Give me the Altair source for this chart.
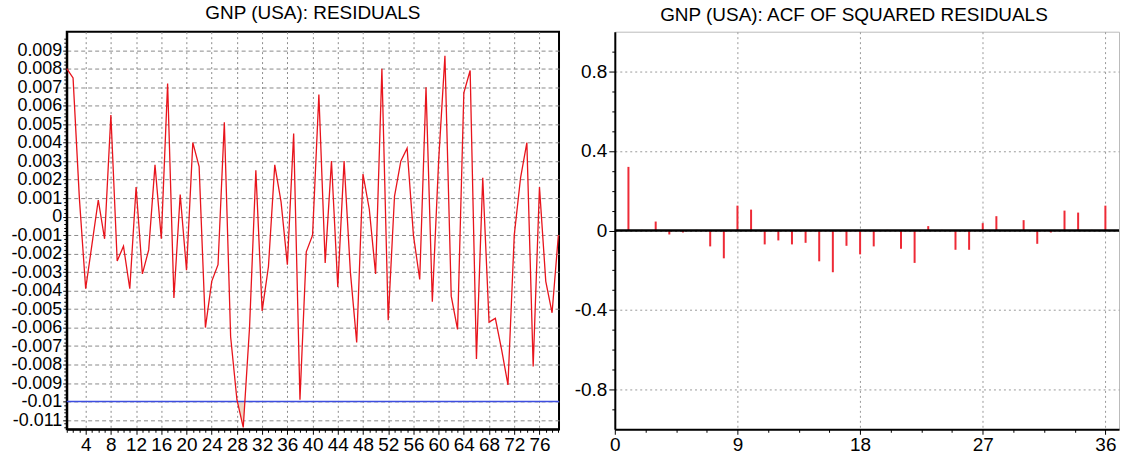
import altair as alt
import pandas as pd

FONT = "Liberation Sans"

# ---------------- data ----------------
obs = list(range(1, 80))
residuals = [
    0.0080, 0.0075, 0.0010, -0.0039, -0.0015, 0.0009, -0.0012, 0.0055, -0.0024, -0.0016,
    -0.0039, 0.0016, -0.0031, -0.0018, 0.0028, -0.0012, 0.0072, -0.0044, 0.0012, -0.0029,
    0.0040, 0.0027, -0.0060, -0.0035, -0.0026, 0.0051, -0.0065, -0.0099, -0.0114, -0.0060,
    0.0025, -0.0051, -0.0027, 0.0028, 0.0008, -0.0026, 0.0045, -0.0099, -0.0019, -0.0010,
    0.0066, -0.0025, 0.0030, -0.0038, 0.0030, -0.0030, -0.0068, 0.0023, 0.0004, -0.0031,
    0.0080, -0.0056, 0.0011, 0.0030, 0.0037, -0.0010, -0.0034, 0.0070, -0.0046, 0.0030,
    0.0087, -0.0043, -0.0061, 0.0067, 0.0079, -0.0077, 0.0021, -0.0057, -0.0055, -0.0072,
    -0.0091, -0.0010, 0.0021, 0.0040, -0.0081, 0.0016, -0.0035, -0.0052, -0.0010,
]
threshold = -0.01

lags = list(range(1, 37))
acf_sq = [
    0.32, 0.003, 0.045, -0.02, -0.01, 0.003, -0.08, -0.14, 0.125, 0.105,
    -0.07, -0.05, -0.07, -0.062, -0.155, -0.21, -0.077, -0.12, -0.08, 0.003,
    -0.092, -0.163, 0.022, 0.003, -0.097, -0.097, 0.037, 0.072, 0.003, 0.052,
    -0.067, -0.01, 0.10, 0.09, 0.003, 0.125,
]

# axis tick positions (major ones carry a label, the rest are minor ticks)
left_x_ticks = list(range(1, 80))
left_y_ticks = [round(k * 0.0002, 4) for k in range(-57, 49)]
right_x_ticks = [k * 2.25 for k in range(0, 17)]
right_y_ticks = [round(k * 0.1, 1) for k in range(-9, 10)]

# ---------------- tables ----------------
res_df = pd.DataFrame({"t": obs, "resid": residuals})
acf_df = pd.DataFrame({"lag": lags, "acf": acf_sq})
th_df = pd.DataFrame({"resid": [threshold]})
zero_df = pd.DataFrame({"acf": [0.0]})

# region of the residual curve below the threshold (boundary of the shaded fill)
shade = []
grp = 0
for i in range(len(residuals)):
    a = residuals[i]
    if a < threshold:
        shade.append({"t": obs[i], "resid": a, "g": grp})
    if i + 1 < len(residuals):
        b = residuals[i + 1]
        if (a < threshold) != (b < threshold):
            f = (threshold - a) / (b - a)
            shade.append({"t": obs[i] + f, "resid": threshold, "g": grp})
            if a < threshold:
                grp += 1
shade_df = pd.DataFrame(shade)


def make_axis(values, major, tick_major, dash, grid_color, grid_test=None, pad=1, size=19):
    gt = grid_test or major
    return alt.Axis(
        title=None, values=values,
        labelExpr=f"({major}) ? '' + datum.value : ''",
        tickSize={"condition": {"test": major, "value": tick_major}, "value": 3},
        grid=True,
        gridOpacity={"condition": {"test": gt, "value": 1}, "value": 0},
        gridDash=dash, gridColor=grid_color, gridWidth=1,
        labelFont=FONT, labelFontSize=size, labelColor="#000", labelPadding=pad,
        labelOverlap=False, labelFlush=False,
        domainColor="#000", domainWidth=2, tickColor="#000",
    )


# ---------------- left chart ----------------
major_y_left = "abs(datum.value*1000 - round(datum.value*1000)) < 1e-6"
major_x_left = "datum.value % 4 === 0"

left_x_scale = alt.Scale(domain=[1, 79.1], nice=False, zero=False)
left_y_scale = alt.Scale(domain=[-0.0115, 0.01], nice=False, zero=False)
left_x_axis = make_axis(left_x_ticks, major_x_left, 5, [2, 3], "#8a8a8a", size=19)
left_y_axis = make_axis(left_y_ticks, major_y_left, 4, [4, 3], "#8a8a8a", size=18)

area = alt.Chart(shade_df).mark_area(color="#eed8c4", opacity=1).encode(
    x=alt.X("t:Q", scale=left_x_scale, axis=left_x_axis),
    y=alt.Y("resid:Q", scale=left_y_scale, axis=left_y_axis),
    y2=alt.Y2(datum=threshold),
    detail="g:N",
)
thr = alt.Chart(th_df).mark_rule(color="#3d4ee0", strokeWidth=1.5).encode(
    y=alt.Y("resid:Q", scale=left_y_scale, axis=left_y_axis)
)
line = alt.Chart(res_df).mark_line(color="#e8141c", strokeWidth=1.3).encode(
    x=alt.X("t:Q", scale=left_x_scale, axis=left_x_axis),
    y=alt.Y("resid:Q", scale=left_y_scale, axis=left_y_axis),
)

left = alt.layer(area, thr, line).properties(
    width=494, height=399,
    title=alt.TitleParams("GNP (USA): RESIDUALS", font=FONT, fontSize=19,
                          fontWeight="normal", color="#000", anchor="middle", offset=7),
    view=alt.ViewBackground(stroke="#000", strokeWidth=2),
)

# ---------------- right chart ----------------
major_y_right = "abs(datum.value/0.4 - round(datum.value/0.4)) < 1e-6"
major_x_right = "datum.value % 9 === 0"

right_x_scale = alt.Scale(domain=[0, 37], nice=False, zero=False)
right_y_scale = alt.Scale(domain=[-1, 1], nice=False, zero=False)
right_x_axis = make_axis(right_x_ticks, major_x_right, 5, [2, 3], "#9a9a9a",
                         grid_test=f"({major_x_right}) && datum.value > 0")
right_y_axis = make_axis(right_y_ticks, major_y_right, 6, [2, 3], "#9a9a9a", pad=2)

bars = alt.Chart(acf_df).mark_rule(color="#ee2a36", strokeWidth=2).encode(
    x=alt.X("lag:Q", scale=right_x_scale, axis=right_x_axis),
    y=alt.Y("acf:Q", scale=right_y_scale, axis=right_y_axis),
    y2=alt.Y2(datum=0),
)
zero = alt.Chart(zero_df).mark_rule(color="#000", strokeWidth=2.5).encode(
    y=alt.Y("acf:Q", scale=right_y_scale, axis=right_y_axis)
)

right = alt.layer(bars, zero).properties(
    width=506, height=399,
    title=alt.TitleParams("GNP (USA): ACF OF SQUARED RESIDUALS", font=FONT, fontSize=19,
                          fontWeight="normal", color="#000", anchor="middle", offset=7,
                          dx=-13),
    view=alt.ViewBackground(stroke="#bbbbbb", strokeWidth=1),
)

chart = alt.hconcat(left, right, spacing=11).properties(
    padding={"left": 9, "top": 2, "right": 2, "bottom": 0},
    background="white",
).configure_view(stroke=None)

chart.save("out.html", embed_options={"renderer": "svg", "actions": False})
